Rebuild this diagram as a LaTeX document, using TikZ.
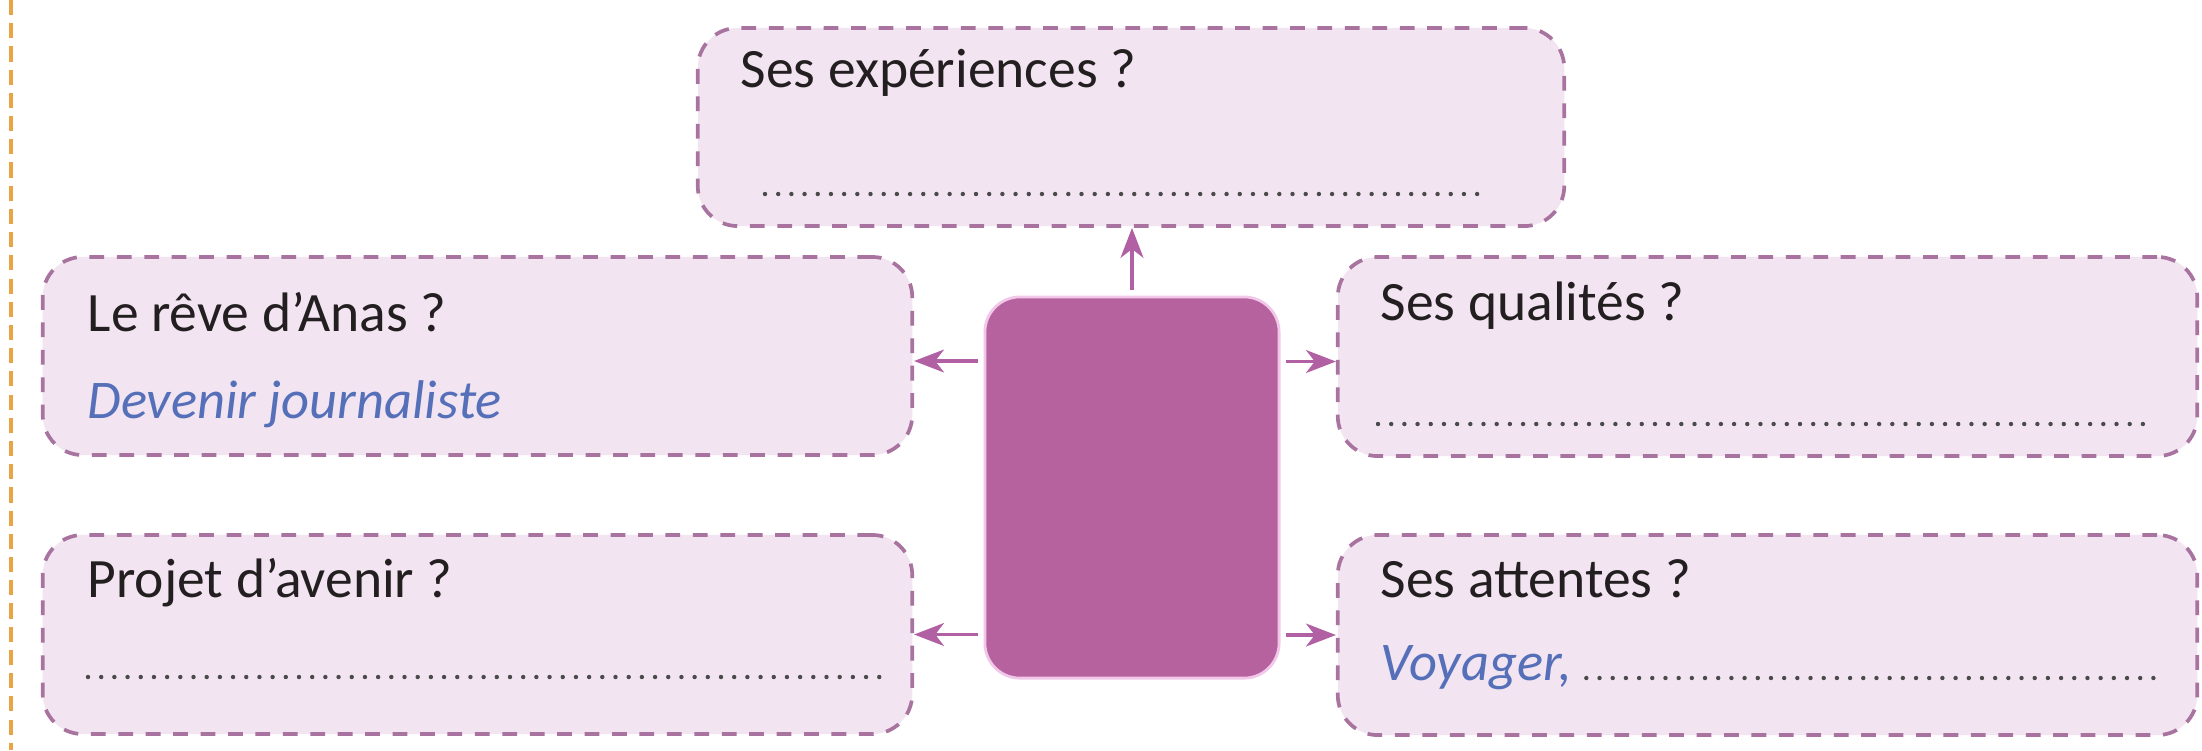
\documentclass[tikz,border=0pt]{standalone}
\usepackage{fontspec}
\setmainfont{Carlito}
\usetikzlibrary{arrows.meta}
\definecolor{boxfill}{HTML}{F2E4F1}
\definecolor{boxline}{HTML}{A8739F}
\definecolor{centerfill}{HTML}{B5629F}
\definecolor{centerline}{HTML}{F2C8EA}
\definecolor{arrowc}{HTML}{B060A3}
\definecolor{orangec}{HTML}{E9A445}
\definecolor{handblue}{HTML}{5570B8}
\definecolor{textc}{HTML}{231F20}
\definecolor{dotc}{HTML}{4A4A4A}
\begin{document}
\begin{tikzpicture}[x=0.01cm,y=-0.01cm,
  qbox/.style={rectangle, draw=boxline, fill=boxfill, line width=1.05pt,
    dash pattern=on 4.2pt off 3.6pt, rounded corners=0.4cm, inner sep=0pt},
  cbox/.style={rectangle, draw=centerline, fill=centerfill, line width=0.8pt,
    rounded corners=0.35cm, inner sep=0pt},
  arr/.style={draw=arrowc, line width=0.9pt,
    -{Stealth[length=8.5pt,width=6.5pt,inset=2.5pt]}, shorten <=1.5pt},
  lbl/.style={anchor=base west, inner sep=0pt, text=textc,
    font=\fontsize{15.8}{18}\selectfont},
  hand/.style={anchor=base west, inner sep=0pt, text=handblue,
    font=\fontsize{15.5}{18}\selectfont\itshape},
  dotrow/.style={draw=dotc, line width=1.25pt, line cap=round,
    dash pattern=on 0pt off 3.75pt}
]
\path[use as bounding box] (0,0) rectangle (2202,750);
\fill[white] (0,0) rectangle (2202,750);

% orange margin line
\draw[orangec, line width=0.9pt, dash pattern=on 4.3pt off 2.3pt] (11,0) -- (11,750);

% boxes
\node[qbox, minimum width=8.66cm, minimum height=1.98cm] (exp) at (1131,127) {};
\node[qbox, minimum width=8.69cm, minimum height=1.98cm] (reve) at (477.5,356) {};
\node[qbox, minimum width=8.69cm, minimum height=1.99cm] (proj) at (477.5,634.5) {};
\node[qbox, minimum width=8.59cm, minimum height=1.99cm] (qual) at (1767.5,356.5) {};
\node[qbox, minimum width=8.59cm, minimum height=2.00cm] (att) at (1767.5,635) {};
\node[cbox, minimum width=2.94cm, minimum height=3.81cm] (ctr) at (1132,487.5) {};

% arrows
\draw[arr] (ctr.north) -- (ctr.north |- exp.south);
\draw[arr] ([yshift=-0.05cm]ctr.west |- reve.east) -- ([yshift=-0.05cm]reve.east);
\draw[arr] (ctr.west |- proj.east) -- (proj.east);
\draw[arr] ([yshift=-0.05cm]ctr.east |- qual.west) -- ([yshift=-0.05cm]qual.west);
\draw[arr] (ctr.east |- att.west) -- (att.west);

% texts
\node[lbl] (exp-t) at (740,87) {Ses expériences ?};
\draw[dotrow] (765,194) -- (1481,194);

\node[lbl] (reve-t) at (87,331) {Le rêve d’Anas ?};
\node[hand] (reve-a) at (87,418) {Devenir journaliste};

\node[lbl] (proj-t) at (87,597) {Projet d’avenir ?};
\draw[dotrow] (88,677) -- (887,677);

\node[lbl] (qual-t) at (1380,320) {Ses qualités ?};
\draw[dotrow] (1378,424) -- (2146,424);

\node[lbl] (att-t) at (1380,597) {Ses attentes ?};
\node[hand] (att-a) at (1380,680) {Voyager,};
\draw[dotrow] ([xshift=0.14cm,yshift=0.02cm]att-a.base east) -- (2160,678);
\end{tikzpicture}
\end{document}
